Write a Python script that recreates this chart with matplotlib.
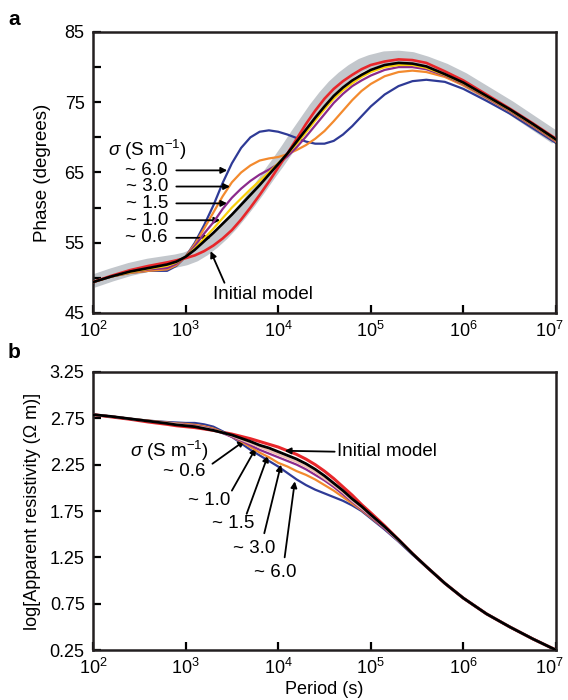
import numpy as np
import matplotlib
matplotlib.use("Agg")
from matplotlib import pyplot as plt
from matplotlib.ticker import NullLocator, FixedLocator
import matplotlib.transforms as mtransforms

plt.rcParams['font.family'] = ['Liberation Sans', 'DejaVu Sans']
plt.rcParams['mathtext.fontset'] = 'custom'
plt.rcParams['mathtext.rm'] = 'Liberation Sans'
plt.rcParams['mathtext.it'] = 'Liberation Sans:italic'
plt.rcParams['mathtext.bf'] = 'Liberation Sans:bold'

# log10 of period (s), shared by all curves
log_period = [2.0, 2.2, 2.4, 2.6, 2.8, 2.9, 3.0, 3.1, 3.2, 3.3, 3.4, 3.5, 3.6, 3.7, 3.8, 3.9,
              4.0, 4.1, 4.2, 4.3, 4.4, 4.5, 4.6, 4.7, 4.8, 4.9, 5.0, 5.15, 5.3, 5.45, 5.6,
              5.8, 6.0, 6.25, 6.5, 6.75, 7.0]

# ---- panel a: phase (degrees)
phase_band = [49.5, 50.4, 51.2, 51.8, 52.2, 52.4, 52.7, 53.2, 54.0, 55.0, 56.2, 57.6, 59.2, 60.9, 62.7, 64.6,
              66.4, 68.3, 70.3, 72.2, 74.1, 75.8, 77.3, 78.5, 79.5, 80.3, 80.8, 81.3, 81.4, 81.2, 80.6,
              79.6, 78.3, 76.3, 74.3, 72.1, 69.9]
phase_initial = [49.4, 50.3, 51.1, 51.7, 52.2, 52.5, 52.8, 53.2, 53.8, 54.6, 55.6, 56.8, 58.3, 60.0, 61.8, 63.7,
                 65.7, 67.7, 69.8, 71.9, 73.8, 75.5, 76.9, 78.0, 78.9, 79.7, 80.3, 80.8, 81.1, 81.0, 80.6,
                 79.4, 78.1, 76.1, 74.1, 72.0, 69.8]
phase_06 = [49.4, 50.2, 50.9, 51.4, 51.9, 52.3, 53.0, 54.0, 55.2, 56.4, 57.7, 59.0, 60.4, 61.8, 63.2, 64.7,
            66.2, 67.7, 69.4, 71.1, 72.8, 74.4, 75.9, 77.1, 78.1, 78.9, 79.6, 80.3, 80.6, 80.5, 80.1,
            79.0, 77.8, 75.9, 74.0, 71.9, 69.7]
phase_10 = [49.4, 50.2, 50.8, 51.3, 51.7, 52.2, 53.0, 54.2, 55.6, 57.0, 58.5, 60.0, 61.3, 62.6, 63.8, 65.0,
            66.3, 67.6, 69.1, 70.7, 72.4, 74.0, 75.5, 76.7, 77.7, 78.6, 79.3, 80.0, 80.3, 80.3, 79.9,
            78.9, 77.7, 75.8, 73.9, 71.8, 69.6]
phase_15 = [49.4, 50.2, 50.8, 51.2, 51.4, 52.0, 53.0, 54.5, 56.3, 57.9, 59.8, 61.4, 62.7, 63.8, 64.7, 65.4,
            66.2, 67.3, 68.6, 70.1, 71.7, 73.3, 74.9, 76.2, 77.3, 78.1, 78.8, 79.6, 80.0, 80.0, 79.7,
            78.8, 77.6, 75.7, 73.8, 71.7, 69.5]
phase_30 = [49.4, 50.2, 50.7, 51.0, 51.2, 51.8, 53.0, 54.8, 57.0, 59.3, 61.6, 63.6, 65.0, 66.0, 66.7, 67.0,
            67.2, 67.6, 68.2, 68.9, 69.8, 70.9, 72.3, 73.8, 75.3, 76.6, 77.6, 78.7, 79.3, 79.5, 79.3,
            78.6, 77.4, 75.6, 73.7, 71.6, 69.4]
phase_60 = [49.4, 50.2, 50.7, 51.0, 51.0, 51.7, 53.0, 55.0, 57.5, 60.3, 63.5, 66.3, 68.5, 70.0, 70.8, 71.0,
            70.8, 70.4, 69.9, 69.4, 69.1, 69.1, 69.5, 70.4, 71.6, 73.0, 74.4, 76.1, 77.3, 78.0, 78.2,
            77.9, 76.9, 75.2, 73.4, 71.3, 69.2]

# ---- panel b: log apparent resistivity
rho_initial = [2.79, 2.765, 2.74, 2.71, 2.685, 2.67, 2.66, 2.65, 2.635, 2.62, 2.60, 2.58, 2.555, 2.53, 2.50, 2.47,
               2.44, 2.40, 2.36, 2.31, 2.25, 2.18, 2.10, 2.01, 1.92, 1.82, 1.73, 1.59, 1.44, 1.29, 1.15,
               0.97, 0.81, 0.64, 0.50, 0.37, 0.25]
rho_06 = [2.79, 2.77, 2.745, 2.72, 2.695, 2.68, 2.67, 2.66, 2.64, 2.62, 2.595, 2.57, 2.535, 2.50, 2.46, 2.43,
          2.39, 2.35, 2.31, 2.26, 2.20, 2.13, 2.05, 1.97, 1.88, 1.80, 1.71, 1.58, 1.44, 1.29, 1.15,
          0.97, 0.81, 0.64, 0.50, 0.37, 0.25]
rho_10 = [2.79, 2.77, 2.745, 2.72, 2.70, 2.69, 2.675, 2.665, 2.65, 2.625, 2.595, 2.56, 2.52, 2.48, 2.44, 2.40,
          2.36, 2.32, 2.28, 2.23, 2.17, 2.10, 2.03, 1.95, 1.86, 1.78, 1.70, 1.57, 1.43, 1.29, 1.15,
          0.97, 0.81, 0.64, 0.50, 0.37, 0.25]
rho_15 = [2.79, 2.77, 2.745, 2.72, 2.70, 2.69, 2.68, 2.67, 2.655, 2.63, 2.59, 2.55, 2.51, 2.46, 2.41, 2.37,
          2.33, 2.29, 2.25, 2.20, 2.14, 2.08, 2.01, 1.93, 1.85, 1.77, 1.69, 1.56, 1.43, 1.29, 1.15,
          0.97, 0.81, 0.64, 0.50, 0.37, 0.25]
rho_30 = [2.79, 2.77, 2.745, 2.725, 2.705, 2.695, 2.69, 2.68, 2.665, 2.64, 2.60, 2.55, 2.50, 2.44, 2.38, 2.33,
          2.27, 2.23, 2.18, 2.14, 2.09, 2.03, 1.97, 1.90, 1.83, 1.76, 1.68, 1.56, 1.43, 1.29, 1.15,
          0.97, 0.81, 0.64, 0.50, 0.37, 0.25]
rho_60 = [2.79, 2.77, 2.745, 2.725, 2.71, 2.705, 2.70, 2.70, 2.685, 2.66, 2.61, 2.55, 2.48, 2.41, 2.35, 2.29,
          2.23, 2.16, 2.09, 2.03, 1.98, 1.94, 1.90, 1.86, 1.81, 1.75, 1.67, 1.55, 1.42, 1.28, 1.15,
          0.97, 0.81, 0.64, 0.50, 0.37, 0.25]

sigma_labels = ['~ 6.0', '~ 3.0', '~ 1.5', '~ 1.0', '~ 0.6']
x_ticks = [1e2, 1e3, 1e4, 1e5, 1e6, 1e7]
x_ticklabels = ['$10^{2}$', '$10^{3}$', '$10^{4}$', '$10^{5}$', '$10^{6}$', '$10^{7}$']

BLUE = '#2e3a96'
ORANGE = '#f38a2e'
PURPLE = '#8b2a8c'
YELLOW = '#f9cf0a'
RED = '#e8262a'
GRAY = '#c3c7cc'

period = 10 ** np.array(log_period)

fig = plt.figure(figsize=(5.68, 7.0), dpi=100)
ax_a = fig.add_axes([0.1637, 0.5529, 0.8151, 0.4014])
ax_b = fig.add_axes([0.1637, 0.0714, 0.8151, 0.3972])

lw = 1.6
# panel a
ax_a.plot(period, phase_band, color=GRAY, lw=9.5, solid_capstyle='butt', zorder=1)
ax_a.plot(period, phase_60, color=BLUE, lw=lw, zorder=2)
ax_a.plot(period, phase_30, color=ORANGE, lw=lw, zorder=3)
ax_a.plot(period, phase_15, color=PURPLE, lw=lw, zorder=4)
ax_a.plot(period, phase_10, color=YELLOW, lw=lw, zorder=5)
ax_a.plot(period, phase_initial, color=RED, lw=lw + 0.3, zorder=6)
ax_a.plot(period, phase_06, color='black', lw=lw + 0.3, zorder=7)

# panel b
ax_b.plot(period, rho_initial, color=RED, lw=lw + 0.6, zorder=2)
ax_b.plot(period, rho_60, color=BLUE, lw=lw, zorder=3)
ax_b.plot(period, rho_30, color=ORANGE, lw=lw, zorder=4)
ax_b.plot(period, rho_15, color=PURPLE, lw=lw, zorder=5)
ax_b.plot(period, rho_10, color='#f2c0b0', lw=lw, zorder=6)
ax_b.plot(period, rho_06, color='black', lw=lw + 0.4, zorder=7)

for ax in (ax_a, ax_b):
    ax.set_xscale('log')
    ax.set_xlim(1e2, 1e7)
    ax.xaxis.set_major_locator(FixedLocator(x_ticks))
    ax.xaxis.set_minor_locator(NullLocator())
    ax.set_xticklabels(x_ticklabels)
    ax.tick_params(direction='in', length=6, width=1.6, labelsize=13, pad=6)
    ax.tick_params(which='minor', direction='in', length=6, width=1.6)
    for s in ax.spines.values():
        s.set_linewidth(1.8)
        s.set_color('#231f20')
    last = ax.get_xticklabels()[-1]
    last.set_transform(last.get_transform() +
                       mtransforms.ScaledTranslation(-7 / 100, 0, fig.dpi_scale_trans))

ax_a.set_ylim(45, 85)
ax_a.set_yticks([45, 55, 65, 75, 85])
ax_a.yaxis.set_minor_locator(FixedLocator([50, 60, 70, 80]))
ax_a.set_ylabel('Phase (degrees)', fontsize=13.5, labelpad=10)

ax_b.set_ylim(0.25, 3.25)
ax_b.set_yticks([0.25, 0.75, 1.25, 1.75, 2.25, 2.75, 3.25])
ax_b.set_yticklabels(['0.25', '0.75', '1.25', '1.75', '2.25', '2.75', '3.25'])
ax_b.set_ylabel('log[Apparent resistivity (\u03a9 m)]', fontsize=13, labelpad=6)
ax_b.set_xlabel('Period (s)', fontsize=13, labelpad=2)

arrow = dict(arrowstyle='-|>', lw=1.3, color='black', mutation_scale=9, shrinkA=0, shrinkB=0)
fs = 13.5

# panel a annotations
ax_a.text(10 ** 2.16, 68.2, r'$\sigma$ (S m$^{-1}$)', fontsize=fs, va='center', ha='left')
a_y = [65.3, 63.0, 60.6, 58.2, 55.7]
a_tip = [3.45, 3.48, 3.45, 3.375, 3.27]
for lab, yy, tip in zip(sigma_labels, a_y, a_tip):
    ax_a.text(10 ** 2.81, yy, lab, fontsize=fs, va='center', ha='right')
    ax_a.annotate('', xy=(10 ** tip, yy), xytext=(10 ** 2.9, yy), arrowprops=arrow)
ax_a.annotate('', xy=(10 ** 3.27, 53.8), xytext=(10 ** 3.42, 49.3), arrowprops=arrow)
ax_a.text(10 ** 3.84, 47.7, 'Initial model', fontsize=fs, ha='center', va='center')

# panel b annotations
ax_b.text(10 ** 2.40, 2.40, r'$\sigma$ (S m$^{-1}$)', fontsize=fs, va='center', ha='left')
b_text = [(4.20, 1.09), (3.97, 1.34), (3.74, 1.61), (3.48, 1.864), (3.21, 2.177)]
b_from = [(4.07, 1.25), (3.85, 1.51), (3.66, 1.72), (3.50, 1.97), (3.29, 2.26)]
b_tip = [(4.18, 2.07), (4.03, 2.25), (3.89, 2.35), (3.76, 2.43), (3.64, 2.51)]
for lab, (tx, ty), (fx, fy), (px, py) in zip(sigma_labels, b_text, b_from, b_tip):
    ax_b.text(10 ** tx, ty, lab, fontsize=fs, va='center', ha='right')
    ax_b.annotate('', xy=(10 ** px, py), xytext=(10 ** fx, fy), arrowprops=arrow)
ax_b.annotate('', xy=(10 ** 4.07, 2.40), xytext=(10 ** 4.61, 2.39), arrowprops=arrow)
ax_b.text(10 ** 4.63, 2.39, 'Initial model', fontsize=fs, ha='left', va='center')

fig.text(0.014, 0.972, 'a', fontsize=15, fontweight='bold', va='center')
fig.text(0.014, 0.497, 'b', fontsize=15, fontweight='bold', va='center')

fig.savefig('out.png', dpi=100)
